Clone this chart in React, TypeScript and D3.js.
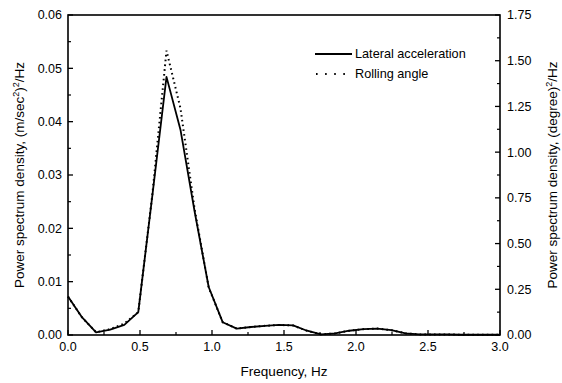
import React from "react";
import * as d3 from "d3";

const freq = [0, 0.098, 0.195, 0.293, 0.391, 0.488, 0.586, 0.684, 0.781, 0.879, 0.977, 1.074, 1.172, 1.27, 1.367, 1.465, 1.563, 1.66, 1.758, 1.855, 1.953, 2.051, 2.148, 2.246, 2.344, 2.441, 2.539, 2.637, 2.734, 2.832, 2.93, 3.0];
const lateral = [0.0072, 0.0033, 0.0005, 0.001, 0.0019, 0.0043, 0.0262, 0.0484, 0.0385, 0.0232, 0.009, 0.0024, 0.0012, 0.0015, 0.0017, 0.0019, 0.0018, 0.0008, 0.0001, 0.0003, 0.0008, 0.0011, 0.0012, 0.0009, 0.0003, 0.0001, 0.0001, 0.0001, 0.00005, 0.00005, 0.00005, 0.00005];
const rolling = [0.21, 0.096, 0.015, 0.032, 0.062, 0.125, 0.77, 1.555, 1.24, 0.69, 0.26, 0.07, 0.035, 0.044, 0.05, 0.055, 0.052, 0.023, 0.003, 0.009, 0.023, 0.032, 0.035, 0.026, 0.009, 0.003, 0.003, 0.003, 0.0015, 0.0015, 0.0015, 0.0015];
const xTicks = [0, 0.5, 1.0, 1.5, 2.0, 2.5, 3.0];
const leftTicks = [0, 0.01, 0.02, 0.03, 0.04, 0.05, 0.06];
const rightTicks = [0, 0.25, 0.5, 0.75, 1.0, 1.25, 1.5, 1.75];
const legendLabels = ["Lateral acceleration", "Rolling angle"];

const W = 562, H = 383;
const L = 68, R = 500, T = 15, B = 335;
const FONT = "Arial, 'Liberation Sans', Helvetica, sans-serif";

export default function App() {
  const x = d3.scaleLinear().domain([0, 3]).range([L, R]);
  const yL = d3.scaleLinear().domain([0, 0.06]).range([B, T]);
  const yR = d3.scaleLinear().domain([0, 1.75]).range([B, T]);
  const lineL = d3.line<number>().x((_, i) => x(freq[i])).y((d) => yL(d));
  const lineR = d3.line<number>().x((_, i) => x(freq[i])).y((d) => yR(d));

  const xMinor = d3.range(0, 7).map((i) => i * 0.5 + 0.25).filter((v) => v < 3);
  const lMinor = leftTicks.slice(0, -1).map((v) => v + 0.005);
  const rMinor = rightTicks.slice(0, -1).map((v) => v + 0.125);

  return (
    <div style={{ position: "fixed", left: 0, top: 0 }}>
      <svg width={W} height={H} style={{ display: "block", background: "#fff" }} fontFamily={FONT}>
        <rect x={0} y={0} width={W} height={H} fill="#fff" />
        {/* data */}
        <path d={lineR(rolling) || ""} fill="none" stroke="#000" strokeWidth={2} strokeDasharray="1.6 3.2" />
        <path d={lineL(lateral) || ""} fill="none" stroke="#000" strokeWidth={1.8} strokeLinejoin="round" />
        {/* frame */}
        <rect x={L} y={T} width={R - L} height={B - T} fill="none" stroke="#000" strokeWidth={1.6} />
        {/* x ticks */}
        {xTicks.map((v) => (
          <g key={"x" + v}>
            <line x1={x(v)} x2={x(v)} y1={B} y2={B - 5} stroke="#000" strokeWidth={1.3} />
            <text x={x(v)} y={351} textAnchor="middle" fontSize={12.5}>{v.toFixed(1)}</text>
          </g>
        ))}
        {xMinor.map((v) => (
          <line key={"xm" + v} x1={x(v)} x2={x(v)} y1={B} y2={B - 3} stroke="#000" strokeWidth={1.2} />
        ))}
        {/* left ticks */}
        {leftTicks.map((v) => (
          <g key={"l" + v}>
            <line x1={L} x2={L + 5} y1={yL(v)} y2={yL(v)} stroke="#000" strokeWidth={1.3} />
            <text x={62} y={yL(v)} dy="0.35em" textAnchor="end" fontSize={12.5}>{v.toFixed(2)}</text>
          </g>
        ))}
        {lMinor.map((v) => (
          <line key={"lm" + v} x1={L} x2={L + 3} y1={yL(v)} y2={yL(v)} stroke="#000" strokeWidth={1.2} />
        ))}
        {/* right ticks */}
        {rightTicks.map((v) => (
          <g key={"r" + v}>
            <line x1={R} x2={R - 5} y1={yR(v)} y2={yR(v)} stroke="#000" strokeWidth={1.3} />
            <text x={507} y={yR(v)} dy="0.35em" textAnchor="start" fontSize={12.5}>{v.toFixed(2)}</text>
          </g>
        ))}
        {rMinor.map((v) => (
          <line key={"rm" + v} x1={R} x2={R - 3} y1={yR(v)} y2={yR(v)} stroke="#000" strokeWidth={1.2} />
        ))}
        {/* axis titles */}
        <text x={(L + R) / 2} y={376} textAnchor="middle" fontSize={13.5}>Frequency, Hz</text>
        <text transform={`translate(24,${(T + B) / 2}) rotate(-90)`} textAnchor="middle" fontSize={13.5}>
          Power spectrum density, (m/sec<tspan fontSize={9} dy={-5}>2</tspan><tspan dy={5}>)</tspan><tspan fontSize={9} dy={-5}>2</tspan><tspan dy={5}>/Hz</tspan>
        </text>
        <text transform={`translate(557,${(T + B) / 2}) rotate(-90)`} textAnchor="middle" fontSize={13.5}>
          Power spectrum density, (degree)<tspan fontSize={9} dy={-5}>2</tspan><tspan dy={5}>/Hz</tspan>
        </text>
        {/* legend */}
        <line x1={315} x2={352} y1={54} y2={54} stroke="#000" strokeWidth={1.8} />
        <text x={355} y={54} dy="0.35em" fontSize={12.7}>{legendLabels[0]}</text>
        <line x1={316} x2={352} y1={74} y2={74} stroke="#000" strokeWidth={2} strokeDasharray="1.6 7.5" />
        <text x={355} y={74} dy="0.35em" fontSize={12.7}>{legendLabels[1]}</text>
      </svg>
    </div>
  );
}
